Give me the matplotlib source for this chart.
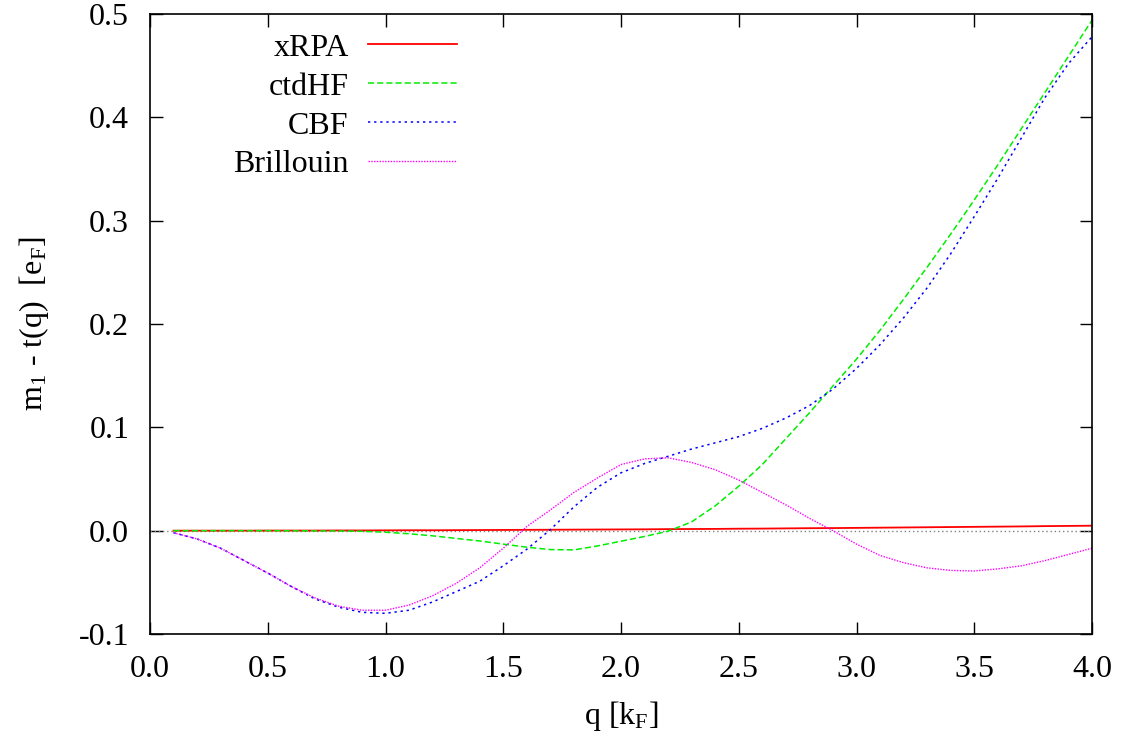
import matplotlib
matplotlib.use("Agg")
import matplotlib.pyplot as plt
import numpy as np

plt.rcParams['font.family'] = ['Liberation Serif', 'DejaVu Serif']
plt.rcParams['mathtext.fontset'] = 'custom'
plt.rcParams['mathtext.rm'] = 'Liberation Serif'
plt.rcParams['mathtext.it'] = 'Liberation Serif:italic'

# q grid in units of k_F
q = [0.1, 0.2, 0.3, 0.4, 0.5, 0.6, 0.7, 0.8, 0.9, 1.0,
     1.1, 1.2, 1.3, 1.4, 1.5, 1.6, 1.7, 1.8, 1.9, 2.0,
     2.1, 2.2, 2.3, 2.4, 2.5, 2.6, 2.7, 2.8, 2.9, 3.0,
     3.1, 3.2, 3.3, 3.4, 3.5, 3.6, 3.7, 3.8, 3.9, 4.0]

xrpa = [0.0, 0.0, 0.0, 0.0, 0.0001, 0.0001, 0.0001, 0.0002, 0.0002, 0.0003,
        0.0004, 0.0004, 0.0005, 0.0006, 0.0007, 0.0008, 0.0009, 0.0010, 0.0011, 0.0012,
        0.0013, 0.0015, 0.0016, 0.0017, 0.0019, 0.0020, 0.0022, 0.0024, 0.0025, 0.0027,
        0.0029, 0.0031, 0.0033, 0.0035, 0.0037, 0.0039, 0.0041, 0.0044, 0.0046, 0.0048]

ctdhf = [0.0, 0.0, 0.0, 0.0, 0.0, -0.0001, -0.0002, -0.0003, -0.0006, -0.0015,
         -0.003, -0.005, -0.0075, -0.010, -0.013, -0.016, -0.0183, -0.0186, -0.0148, -0.0102,
         -0.0056, -0.0005, 0.0085, 0.024, 0.043, 0.064, 0.089, 0.114, 0.140, 0.166,
         0.194, 0.224, 0.255, 0.287, 0.320, 0.354, 0.389, 0.424, 0.459, 0.494]

cbf = [-0.002, -0.008, -0.017, -0.029, -0.041, -0.054, -0.066, -0.074, -0.079, -0.080,
       -0.077, -0.069, -0.059, -0.049, -0.034, -0.018, 0.001, 0.023, 0.042, 0.056,
       0.065, 0.072, 0.079, 0.085, 0.091, 0.099, 0.109, 0.121, 0.137, 0.157,
       0.180, 0.206, 0.235, 0.268, 0.304, 0.341, 0.380, 0.419, 0.452, 0.478]

brillouin = [-0.002, -0.008, -0.017, -0.029, -0.041, -0.054, -0.065, -0.073, -0.077, -0.077,
             -0.072, -0.063, -0.051, -0.036, -0.017, 0.004, 0.020, 0.037, 0.051, 0.064,
             0.0695, 0.0705, 0.066, 0.059, 0.049, 0.037, 0.025, 0.012, 0.000, -0.013,
             -0.024, -0.031, -0.036, -0.0385, -0.039, -0.037, -0.034, -0.029, -0.023, -0.017]

fig = plt.figure(figsize=(11.31, 7.40), dpi=100)
ax = fig.add_axes([150/1131, 106/740, 942/1131, 620/740])

ax.axhline(0, color='#808080', lw=1.0, ls=(0, (1, 2)))
ax.plot(q, xrpa, color='#ff0000', lw=1.3, label='xRPA')
ax.plot(q, ctdhf, color='#00ee00', lw=1.1, ls=(0, (4, 2)), label='ctdHF')
ax.plot(q, cbf, color='#0000ff', lw=1.1, ls=(0, (1.5, 2.5)), label='CBF')
ax.plot(q, brillouin, color='#ff00ff', lw=1.0, ls=(0, (1, 1)), label='Brillouin')

ax.set_xlim(0, 4)
ax.set_ylim(-0.1, 0.5)
ax.set_xticks(np.arange(0, 4.01, 0.5))
ax.set_yticks(np.arange(-0.1, 0.51, 0.1))
ax.xaxis.set_major_formatter(plt.FormatStrFormatter('%.1f'))
ax.yaxis.set_major_formatter(plt.FormatStrFormatter('%.1f'))
ax.tick_params(direction='in', length=9, width=1, top=True, right=True,
               labelsize=23, pad=15)
for s in ax.spines.values():
    s.set_linewidth(1.2)

ax.set_xlabel(r'q [k$_\mathrm{F}$]', fontsize=23, labelpad=11)
ax.set_ylabel(r'm$_\mathrm{1}$ - t(q)  [e$_\mathrm{F}$]', fontsize=23, labelpad=20)

ax.legend(loc='upper right', bbox_to_anchor=(0.350, 1.005), frameon=False,
          markerfirst=False, fontsize=23, handlelength=2.8, handletextpad=0.6,
          labelspacing=0.3, borderpad=0.2)

fig.savefig('out.png', dpi=100)
